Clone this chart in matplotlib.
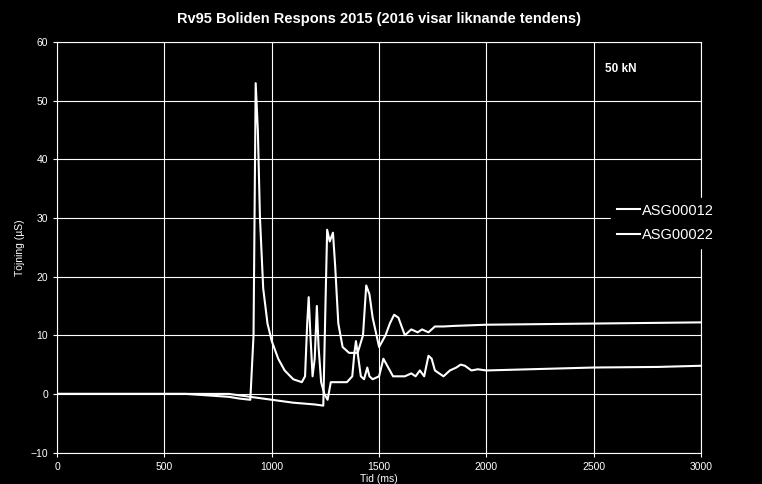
import matplotlib
matplotlib.use("Agg")
import matplotlib.pyplot as plt

t_a = [0,200,400,600,800,850,900,915,925,935,945,960,980,1000,1030,1060,1100,1140,1155,1165,1172,1180,1190,1200,1210,1218,1230,1245,1260,1275,1300,1350,1375,1385,1392,1400,1415,1430,1445,1455,1470,1500,1520,1535,1550,1565,1590,1620,1650,1670,1690,1710,1730,1745,1760,1780,1800,1830,1860,1880,1900,1930,1960,2000,2200,2500,2800,3000]
v_a = [0,0,0,0,-0.5,-0.8,-1,10,53,45,30,18,12,9,6,4,2.5,2,3,12,16.5,10,3,6,15,8,2,0,-1,2,2,2,3,7,9,7,3,2.5,4.5,3,2.5,3,6,5,4,3,3,3,3.5,3,4,3,6.5,6,4,3.5,3,4,4.5,5,4.8,4,4.2,4,4.2,4.5,4.6,4.8]
t_b = [0,200,400,600,800,900,1000,1100,1200,1240,1250,1258,1270,1285,1295,1310,1330,1360,1400,1425,1440,1455,1470,1500,1530,1550,1570,1590,1620,1650,1680,1700,1730,1760,1800,1850,2000,2500,3000]
v_b = [0,0,0,0,0,-0.5,-1,-1.5,-1.8,-2,15,28,26,27.5,22,12,8,7,7,10,18.5,17,13,8,10,12,13.5,13,10,11,10.5,11,10.5,11.5,11.5,11.6,11.8,12,12.2]

plt.rcParams['font.family'] = ['Liberation Sans', 'DejaVu Sans']
fig = plt.figure(figsize=(7.62, 4.84), dpi=100, facecolor='black')
ax = fig.add_axes([0.075, 0.065, 0.845, 0.848], facecolor='black')
ax.plot(t_a, v_a, color='white', lw=1.5, label='ASG00012')
ax.plot(t_b, v_b, color='white', lw=1.5, label='ASG00022')
ax.set_xlim(0, 3000); ax.set_ylim(-10, 60)
ax.set_xticks(range(0, 3001, 500)); ax.set_yticks(range(-10, 61, 10))
ax.grid(True, color='white', lw=0.8)
for s in ax.spines.values(): s.set_color('white')
ax.tick_params(colors='white', labelsize=7.5, length=3)
ax.set_xlabel('Tid (ms)', color='white', fontsize=7.5, labelpad=2)
ax.set_ylabel('Töjning (µS)', color='white', fontsize=7.5)
ax.set_title('Rv95 Boliden Respons 2015 (2016 visar liknande tendens)', color='white', fontsize=10.5, fontweight='bold', pad=14)
ax.text(0.875, 0.95, '50 kN', transform=ax.transAxes, color='white', fontsize=8.5, fontweight='bold', ha='center', va='top')
leg = ax.legend(loc='center left', bbox_to_anchor=(0.86, 0.56), frameon=True, fontsize=10.5,
                handlelength=1.6, handletextpad=0.1, labelspacing=0.7, borderaxespad=0)
leg.get_frame().set_facecolor('black'); leg.get_frame().set_edgecolor('black'); leg.get_frame().set_alpha(1)
for txt in leg.get_texts(): txt.set_color('white')
fig.savefig('out.png', facecolor='black')
